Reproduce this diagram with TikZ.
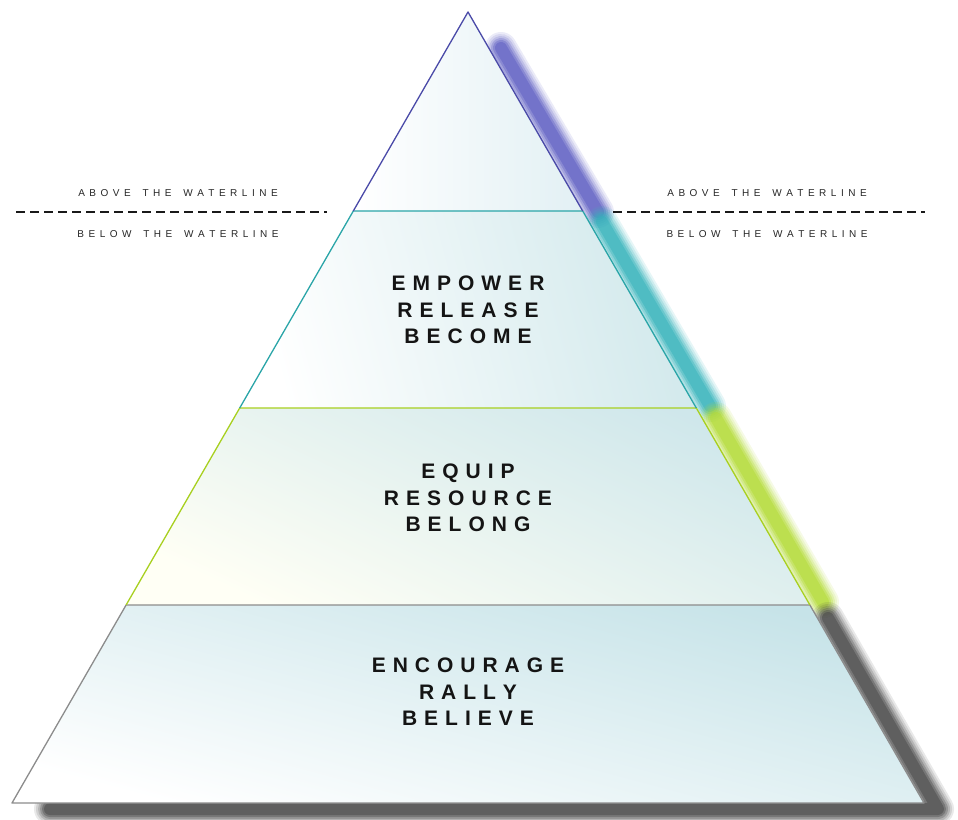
\documentclass[tikz,border=0pt]{standalone}
\usepackage{fontspec}
\setmainfont{Liberation Sans}
\def\trkg{0.5em}
\makeatletter
\newcommand\trk[1]{\trk@#1\@nil}
\def\trk@#1#2\@nil{#1\ifx\relax#2\relax\else\kern\trkg\relax\trk@#2\@nil\fi}
\makeatother
\newcommand\wsp{\kern\trkg\relax\ \kern\trkg\relax}
\definecolor{purpleline}{HTML}{4A4AA8}
\definecolor{purpleshadow}{HTML}{5E5EC2}
\definecolor{tealline}{HTML}{2AA5A8}
\definecolor{tealshadow}{HTML}{34B2BA}
\definecolor{greenline}{HTML}{A8D020}
\definecolor{greenshadow}{HTML}{B2DA34}
\definecolor{grayline}{HTML}{8C8C8C}
\definecolor{grayshadow}{HTML}{464646}
\definecolor{fillA}{HTML}{E2F0F4}
\definecolor{fillB}{HTML}{D2E9EC}
\definecolor{fillC}{HTML}{CFE7EB}
\definecolor{fillD}{HTML}{C6E3E8}
\newcommand\softband[2]{%
  \foreach \w/\o in {32/0.12,28/0.15,24/0.2,20/0.28,16/0.38,12/0.5}{%
    \draw[#1, line width=\w pt, opacity=\o, line cap=round, line join=round] #2;}}
\begin{document}
\begin{tikzpicture}[x=1pt,y=-1pt,
  big/.style={font=\fontsize{21}{26.5}\selectfont\bfseries\def\trkg{7pt}, align=center, text=black!92, inner sep=0pt},
  small/.style={font=\fontsize{10}{12}\selectfont\def\trkg{4.5pt}, text=black!85, inner sep=0pt},
  wline/.style={dash pattern=on 9pt off 5pt, line width=1.3pt, black!90},
  edge/.style={line width=1.3pt, line join=round}]
\useasboundingbox (0,0) rectangle (958,819);
% corners
\coordinate (A)  at (468,12);
\coordinate (L1) at (353.3,211);
\coordinate (R1) at (582.7,211);
\coordinate (L2) at (239.7,408);
\coordinate (R2) at (696.3,408);
\coordinate (L3) at (126.1,605);
\coordinate (R3) at (809.9,605);
\coordinate (L4) at (12,803);
\coordinate (R4) at (924,803);
% shadows
\softband{purpleshadow}{(501,48) -- (598,212)}
\softband{tealshadow}{(602,222) -- (710,406)}
\softband{greenshadow}{(716,418) -- (823,602)}
\softband{grayshadow}{(828,618) -- (938,809) -- (50,809)}
% fills
\shade[top color=fillD, bottom color=white, shading angle=-15] (L3) -- (R3) -- (R4) -- (L4) -- cycle;
\shade[top color=fillC, bottom color=white!96!yellow, shading angle=-25] (L2) -- (R2) -- (R3) -- (L3) -- cycle;
\shade[left color=white, right color=fillB, shading angle=105] (L1) -- (R1) -- (R2) -- (L2) -- cycle;
\shade[left color=white, right color=fillA] (A) -- (R1) -- (L1) -- cycle;
% outlines
\draw[edge, grayline] (L3) -- (R3) -- (R4) -- (L4) -- cycle;
\draw[edge, greenline] (L3) -- (L2) -- (R2) -- (R3);
\draw[edge, tealline] (L2) -- (L1) -- (R1) -- (R2);
\draw[edge, purpleline] (L1) -- (A) -- (R1);
% waterline
\coordinate (wl1) at (16,212);
\coordinate (wl2) at (327,212);
\coordinate (wr1) at (613,212);
\coordinate (wr2) at (925,212);
\draw[wline] (wl1) -- (wl2);
\draw[wline] (wr1) -- (wr2);
\node[small] (aboveL) at (178,193) {\trk{ABOVE}\wsp\trk{THE}\wsp\trk{WATERLINE}};
\node[small] (belowL) at (178,234) {\trk{BELOW}\wsp\trk{THE}\wsp\trk{WATERLINE}};
\node[small] (aboveR) at (767,193) {\trk{ABOVE}\wsp\trk{THE}\wsp\trk{WATERLINE}};
\node[small] (belowR) at (767,234) {\trk{BELOW}\wsp\trk{THE}\wsp\trk{WATERLINE}};
% labels
\node[big] (t2) at (468,310) {\trk{EMPOWER}\\\trk{RELEASE}\\\trk{BECOME}};
\node[big] (t3) at (468,498) {\trk{EQUIP}\\\trk{RESOURCE}\\\trk{BELONG}};
\node[big] (t4) at (468,692) {\trk{ENCOURAGE}\\\trk{RALLY}\\\trk{BELIEVE}};
\end{tikzpicture}
\end{document}
